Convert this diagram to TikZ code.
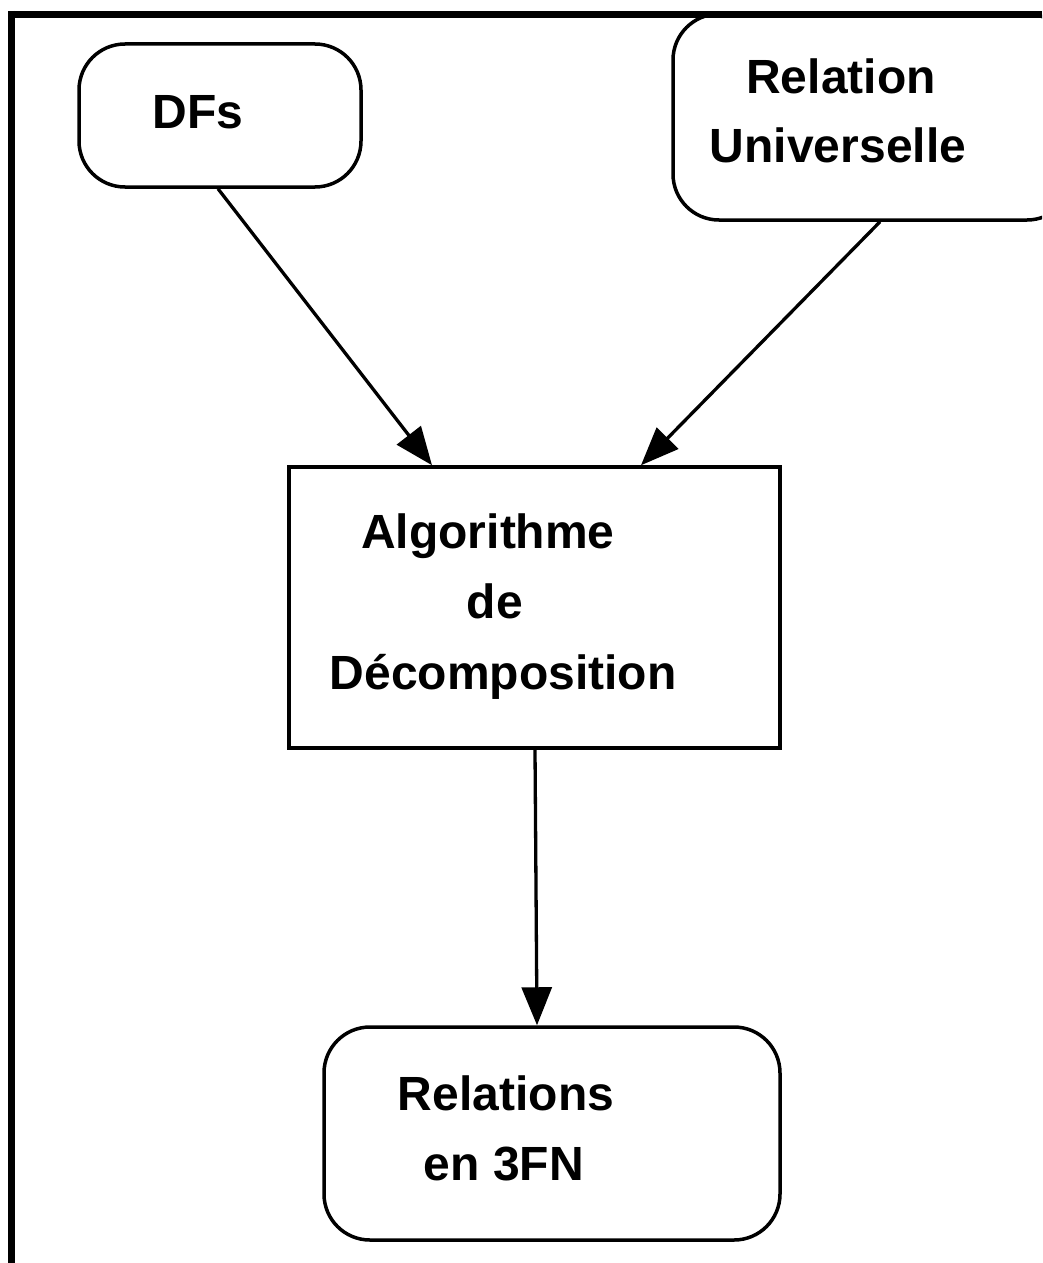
\documentclass[tikz,border=0pt]{standalone}
\usepackage{fontspec}
\setmainfont{Liberation Sans}
\usetikzlibrary{arrows.meta,calc}

\tikzset{
  roundbox/.style={draw=black, line width=3.5pt, rounded corners=46pt, inner sep=0pt},
  plainbox/.style={draw=black, line width=3.5pt, inner sep=0pt},
  label/.style={font=\fontsize{48}{70}\selectfont\bfseries, anchor=base, inner sep=0pt},
  arr/.style={line width=3.3pt, -{Triangle[length=38pt, width=30pt]}},
  frame/.style={line width=7pt}
}

\begin{document}
\begin{tikzpicture}[x=1pt, y=-1pt]
  \useasboundingbox (0,0) rectangle (1042,1263);
  \clip (0,0) rectangle (1042,1263);

  % boxes
  \node[roundbox, minimum width=282pt, minimum height=143pt] (dfs) at (220,115.5) {};
  \node[roundbox, minimum width=400pt, minimum height=206pt] (ru) at (873,117) {};
  \node[plainbox, minimum width=491pt, minimum height=281pt] (algo) at (534.5,607.5) {};
  \node[roundbox, minimum width=456pt, minimum height=213pt] (rel) at (552,1133.5) {};

  % outer frame (top and left)
  \draw[frame] (8,14.3) -- (1042,14.3);
  \draw[frame] (11.7,10.8) -- (11.7,1263);

  % labels
  \node[label] (tdfs) at (198,128) {DFs};
  \node[label] (tru1) at (841,93) {Relation};
  \node[label] (tru2) at (838,162) {Universelle};
  \node[label] (tal1) at (488,548) {Algorithme};
  \node[label] (tal2) at (495,618) {de};
  \node[label] (tal3) at (503,689) {Décomposition};
  \node[label] (trel1) at (506,1110) {Relations};
  \node[label] (trel2) at (504,1180) {en 3FN};

  % connectors
  \draw[arr] ([xshift=-2pt]dfs.south) -- ([xshift=-102.5pt]algo.north);
  \draw[arr] ([xshift=7pt]ru.south) -- ([xshift=106.5pt]algo.north);
  \draw[arr] ([xshift=0.5pt]algo.south) -- ([xshift=-15pt]rel.north);
\end{tikzpicture}
\end{document}
